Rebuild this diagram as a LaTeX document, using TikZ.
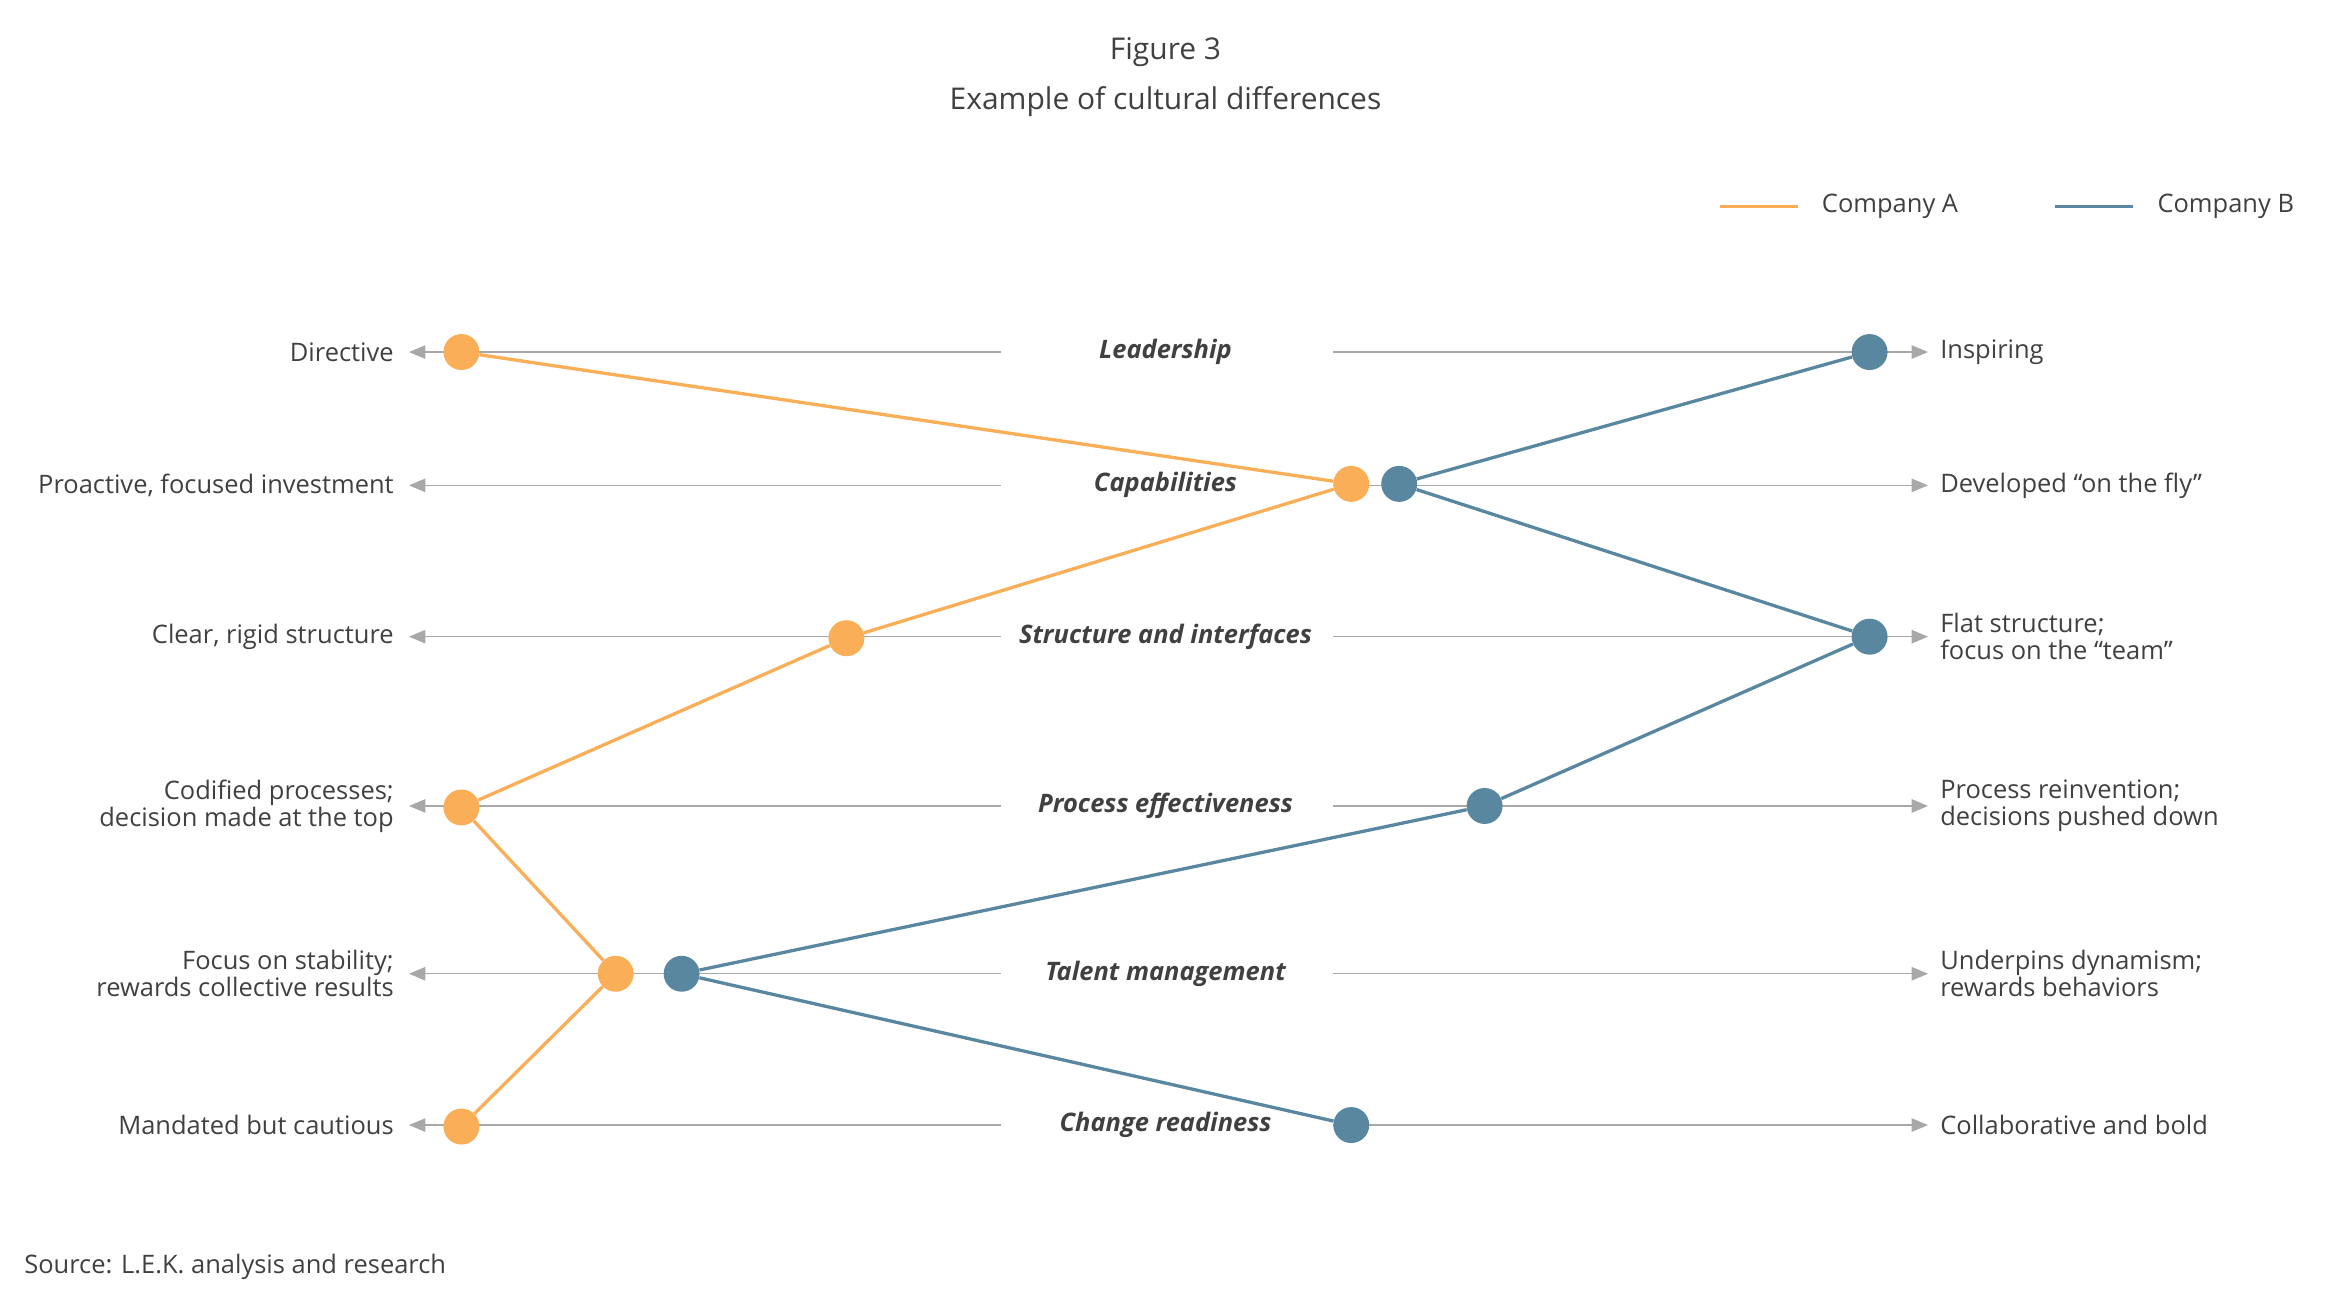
\documentclass[tikz,border=0pt]{standalone}
\usepackage{fontspec}
\setmainfont{Open Sans}
\usetikzlibrary{arrows.meta}
\definecolor{orA}{HTML}{F9AE57}
\definecolor{blB}{HTML}{5A87A0}
\definecolor{txt}{HTML}{404040}
\definecolor{gl}{HTML}{A8A8A8}
\begin{document}
\begin{tikzpicture}[x=1pt,y=-1pt,
  every node/.style={text=txt,font=\fontsize{17}{18}\selectfont},
  lab/.style={anchor=east,align=right,inner sep=0pt},
  rlab/.style={anchor=west,align=left,inner sep=0pt},
  ctr/.style={font=\fontsize{17}{18}\selectfont\bfseries\itshape,inner sep=0pt},
  gline/.style={draw=gl,line width=0.9pt,-{Triangle[length=11pt,width=9pt]}},
  dotA/.style={circle,fill=orA,minimum size=24pt,inner sep=0pt},
  dotB/.style={circle,fill=blB,minimum size=24pt,inner sep=0pt},
  lA/.style={draw=orA,line width=2.2pt},
  lB/.style={draw=blB,line width=2.2pt}]
\useasboundingbox (0,0) rectangle (1556,870);
\node[font=\fontsize{20}{22}\selectfont] (t1) at (778,35) {Figure 3};
\node[font=\fontsize{20}{22}\selectfont] (t2) at (778,68) {Example of cultural differences};
\coordinate (la1) at (1148,138); \coordinate (la2) at (1200,138);
\draw[lA] (la1) -- (la2);
\node[rlab] (lat) at (1216,138) {Company A};
\coordinate (lb1) at (1372,138); \coordinate (lb2) at (1424,138);
\draw[lB] (lb1) -- (lb2);
\node[rlab] (lbt) at (1440,138) {Company B};
\foreach \y/\l/\c/\r [count=\i] in {
 235/Directive/Leadership/Inspiring,
 324/{Proactive, focused investment}/Capabilities/{Developed “on the fly”},
 425/{Clear, rigid structure}/Structure and interfaces/{Flat structure;\\focus on the “team”},
 538/{Codified processes;\\decision made at the top}/Process effectiveness/{Process reinvention;\\decisions pushed down},
 650/{Focus on stability;\\rewards collective results}/Talent management/{Underpins dynamism;\\rewards behaviors},
 751/{Mandated but cautious}/Change readiness/{Collaborative and bold}}{
 \node[lab] (L\i) at (263,\y) {\l};
 \node[rlab] (R\i) at (1295,\y) {\r};
 \node[ctr] (C\i) at (778,\y) {\c};
 \coordinate (cl\i) at (668,\y); \coordinate (al\i) at (273,\y);
 \coordinate (cr\i) at (890,\y); \coordinate (ar\i) at (1287,\y);
 \draw[gline] (cl\i) -- (al\i);
 \draw[gline] (cr\i) -- (ar\i);
}
\node[dotA] (a1) at (308,235) {};
\node[dotA] (a2) at (902,323) {};
\node[dotA] (a3) at (565,426) {};
\node[dotA] (a4) at (308,539) {};
\node[dotA] (a5) at (411,650) {};
\node[dotA] (a6) at (308,752) {};
\node[dotB] (b1) at (1248,235) {};
\node[dotB] (b2) at (934,323) {};
\node[dotB] (b3) at (1248,425) {};
\node[dotB] (b4) at (991,538) {};
\node[dotB] (b5) at (455,650) {};
\node[dotB] (b6) at (902,751) {};
\draw[lA] (a1)--(a2)--(a3)--(a4)--(a5)--(a6);
\draw[lB] (b1)--(b2)--(b3)--(b4)--(b5)--(b6);
\node[rlab] (src) at (16,846) {Source: L.E.K. analysis and research};
\end{tikzpicture}
\end{document}
